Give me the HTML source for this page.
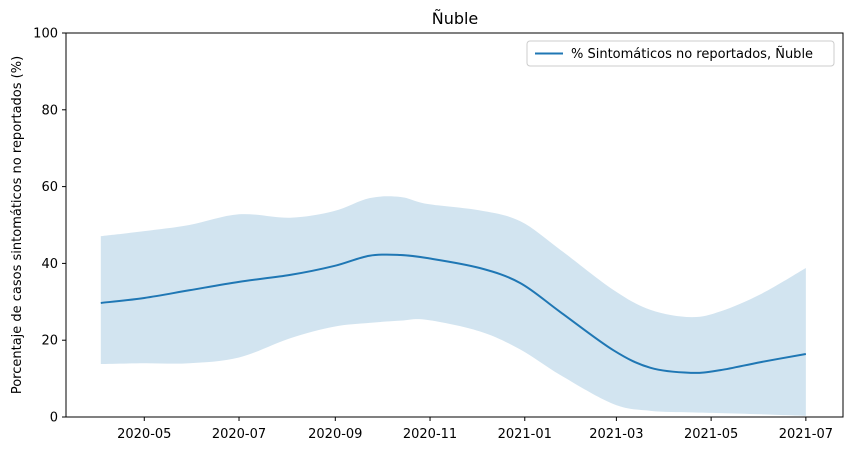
<!DOCTYPE html>
<html><head><meta charset="utf-8"><style>
body{margin:0;background:#fff;font-family:"Liberation Sans","DejaVu Sans",sans-serif;}
svg text{font-family:"DejaVu Sans","Liberation Sans",sans-serif;}
</style></head><body>
<svg id="chart" width="851" height="451">
<text x="455" y="24" text-anchor="middle" font-size="16">Ñuble</text>
<text transform="translate(21,225) rotate(-90)" text-anchor="middle" font-size="13">Porcentaje de casos sintomáticos no reportados (%)</text>
<g id="band-g"></g><g id="line-g"></g><g id="axes-g"></g>
<g>
<rect x="527" y="41" width="307" height="25" rx="3" fill="#fff" stroke="#ccc"/>
<line x1="535" y1="53.5" x2="563" y2="53.5" stroke="#1f77b4" stroke-width="2"/>
<text x="571" y="58" font-size="13">% Sintomáticos no reportados, Ñuble</text>
</g>
</svg>
<script>
const dayOffsets=[0,28,57,89,122,150,173,193,210,244,270,296,330,354,380,399,425,454];
const meanVals=[29.7,31,33,35.2,37,39.3,42,42.2,41.4,38.8,34.9,27.3,17.4,12.8,11.5,12.2,14.3,16.4];
const upperVals=[47.1,48.4,50,52.8,51.9,53.6,57,57.3,55.5,53.8,51,43.5,33.1,27.9,26,27.5,32,38.8];
const lowerVals=[13.8,14,14,15.5,20.5,23.5,24.5,25.1,25.3,22.3,17.6,10.9,3.4,1.6,1.2,1,0.7,0.3];
const yTicks=[0,20,40,60,80,100];
const xTickLabels=["2020-05","2020-07","2020-09","2020-11","2021-01","2021-03","2021-05","2021-07"];
const xTickDays=[28,89,151,212,273,332,393,454];
const L=66,R=843,T=33,B=417,x0=100.8,pxDay=1.553;
const X=d=>x0+d*pxDay, Y=v=>B-(v/100)*(B-T);
function smooth(pts){let s=`M${pts[0][0]},${pts[0][1]}`;for(let i=0;i<pts.length-1;i++){const p0=pts[i-1]||pts[i],p1=pts[i],p2=pts[i+1],p3=pts[i+2]||p2;s+=` C${p1[0]+(p2[0]-p0[0])/6},${p1[1]+(p2[1]-p0[1])/6} ${p2[0]-(p3[0]-p1[0])/6},${p2[1]-(p3[1]-p1[1])/6} ${p2[0]},${p2[1]}`;}return s;}
const NS="http://www.w3.org/2000/svg";
const up=dayOffsets.map((d,i)=>[X(d),Y(upperVals[i])]);
const lo=dayOffsets.map((d,i)=>[X(d),Y(lowerVals[i])]).reverse();
const band=document.createElementNS(NS,'path');


band.setAttribute('d',smooth(up)+' L'+smooth(lo).slice(1)+' Z');
band.setAttribute('fill','#1f77b4');band.setAttribute('fill-opacity','0.2');
document.getElementById('band-g').appendChild(band);
const line=document.createElementNS(NS,'path');


line.setAttribute('d',smooth(dayOffsets.map((d,i)=>[X(d),Y(meanVals[i])])));
line.setAttribute('fill','none');line.setAttribute('stroke','#1f77b4');line.setAttribute('stroke-width','2');
document.getElementById('line-g').appendChild(line);
const ax=document.getElementById('axes-g');
let h=`<rect x="${L}" y="${T}" width="${R-L}" height="${B-T}" fill="none" stroke="#000" stroke-width="1"/>`;
yTicks.forEach(v=>{h+=`<line x1="${L-4}" x2="${L}" y1="${Y(v)}" y2="${Y(v)}" stroke="#000"/><text x="${L-8}" y="${Y(v)+4.5}" text-anchor="end" font-size="13">${v}</text>`;});
xTickDays.forEach((d,i)=>{h+=`<line x1="${X(d)}" x2="${X(d)}" y1="${B}" y2="${B+4}" stroke="#000"/><text x="${X(d)}" y="${B+21}" text-anchor="middle" font-size="13">${xTickLabels[i]}</text>`;});
ax.innerHTML=h;


</script>
</body></html>
